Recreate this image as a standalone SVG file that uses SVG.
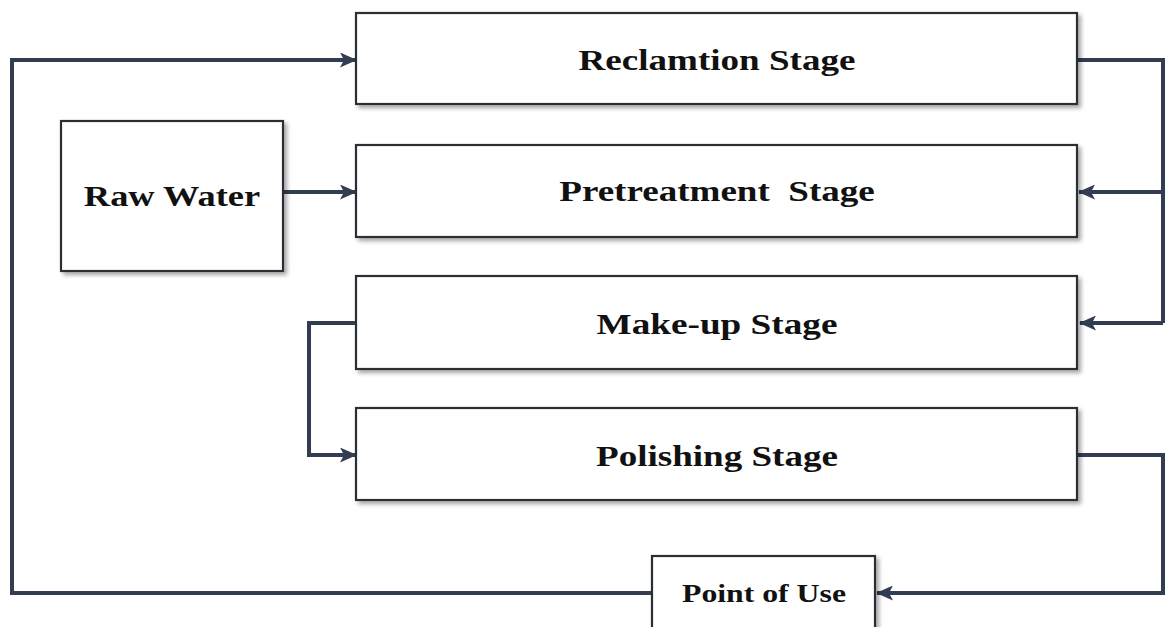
<svg xmlns="http://www.w3.org/2000/svg" width="1167" height="627" viewBox="0 0 1167 627">
  <style>
    .box { fill: #ffffff; stroke: #2b2f36; stroke-width: 2.2; filter: url(#shadow); }
    .label { font-family: "Liberation Serif", "Times New Roman", serif; font-weight: bold; font-size: 29px; fill: #111111; text-anchor: middle; white-space: pre; }
    .small { font-size: 25px; }
    .wire { fill: none; stroke: #333d52; stroke-width: 4; stroke-linejoin: miter; }
    .arrow { marker-end: url(#head); }
  </style>
  <defs>
    <filter id="shadow" x="-5%" y="-10%" width="115%" height="130%">
      <feDropShadow dx="3" dy="3" stdDeviation="2" flood-color="#000000" flood-opacity="0.35"/>
    </filter>
    <marker id="head" markerUnits="userSpaceOnUse" markerWidth="17" markerHeight="15" refX="16" refY="7.5" orient="auto">
      <path d="M0,0 L17,7.5 L0,15 L4,7.5 Z" fill="#333d52"/>
    </marker>
  </defs>
  <rect width="1167" height="627" fill="#ffffff"/>

  <g id="connectors">
    <!-- reclamation output feeds pretreatment and make-up -->
    <path class="wire" d="M1077,60 H1163 V323"/>
    <path class="wire arrow" d="M1163,192 H1079"/>
    <path class="wire arrow" d="M1163,323 H1080"/>
    <!-- raw water into pretreatment -->
    <path class="wire arrow" d="M283,192 H356"/>
    <!-- make-up to polishing -->
    <path class="wire arrow" d="M356,323 H309 V455 H356"/>
    <!-- polishing to point of use -->
    <path class="wire arrow" d="M1077,455 H1163 V593 H877"/>
    <!-- point of use back to reclamation -->
    <path class="wire arrow" d="M652,593 H12 V60 H356"/>
  </g>

  <g id="reclamation">
    <rect class="box" x="356" y="13" width="721" height="91"/>
    <text class="label" transform="translate(717,70) scale(1.278,1)">Reclamtion Stage</text>
  </g>
  <g id="raw-water">
    <rect class="box" x="61" y="121" width="222" height="150"/>
    <text class="label" transform="translate(172,206) scale(1.256,1)">Raw Water</text>
  </g>
  <g id="pretreatment">
    <rect class="box" x="356" y="145" width="721" height="92"/>
    <text class="label" transform="translate(717,201) scale(1.278,1)" xml:space="preserve">Pretreatment  Stage</text>
  </g>
  <g id="make-up">
    <rect class="box" x="356" y="276" width="721" height="93"/>
    <text class="label" transform="translate(717,334) scale(1.284,1)">Make-up Stage</text>
  </g>
  <g id="polishing">
    <rect class="box" x="356" y="408" width="721" height="92"/>
    <text class="label" transform="translate(717,466) scale(1.278,1)">Polishing Stage</text>
  </g>
  <g id="point-of-use">
    <rect class="box" x="652" y="556" width="223" height="80"/>
    <text class="label small" transform="translate(764,602) scale(1.27,1)">Point of Use</text>
  </g>
</svg>
